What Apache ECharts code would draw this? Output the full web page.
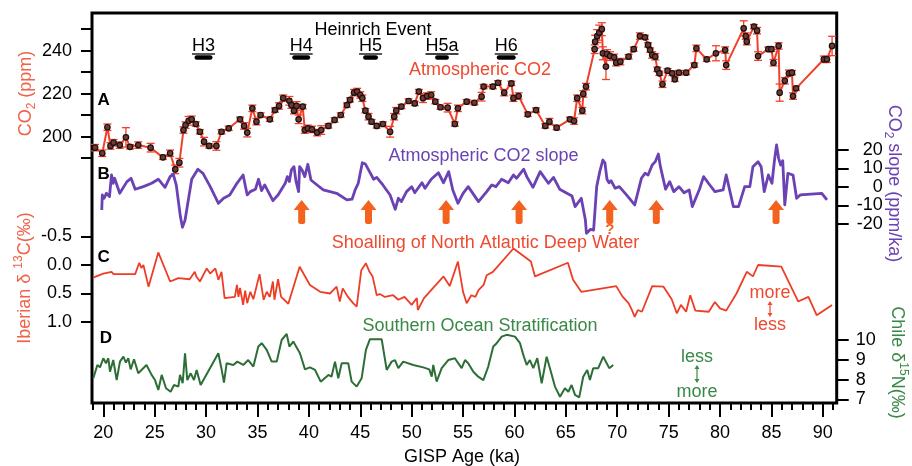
<!DOCTYPE html>
<html>
<head>
<meta charset="utf-8">
<script src="https://cdn.jsdelivr.net/npm/echarts@6/dist/echarts.min.js"></script>
<style>
  html, body { margin: 0; padding: 0; background: #ffffff; }
  #chart { width: 912px; height: 466px; }
</style>
</head>
<body>
<div id="chart"></div>
<script>
// ---------- records (age in ka, GISP time scale) ----------
const co2Age = [19.2,19.9,20.4,20.7,21.0,21.6,22.2,22.6,23.4,24.6,
  25.8,26.5,27.0,27.4,27.8,28.0,28.3,28.6,29.0,29.4,
  29.8,30.3,31.0,31.5,32.2,33.3,33.7,34.0,34.5,34.9,
  35.3,36.2,36.7,37.1,37.5,38.1,38.3,38.55,38.8,39.0,
  39.4,39.6,39.9,40.3,40.8,41.2,41.9,42.5,43.1,43.7,
  44.0,44.4,44.7,45.0,45.2,45.5,45.8,46.1,46.6,47.2,
  47.9,48.3,48.5,49.0,49.7,50.3,50.7,51.1,51.5,51.9,
  52.3,52.8,53.5,54.2,54.5,55.35,56.1,56.8,57.0,57.9,
  58.4,59.0,59.7,59.9,60.4,61.3,62.1,63.0,63.4,64.1,
  65.4,65.8,66.1,66.6,66.7,66.96,67.8,67.85,68.05,68.25,
  68.5,68.6,68.9,69.0,69.3,69.7,69.9,70.3,71.1,71.6,
  72.2,72.7,73.0,73.2,73.4,73.7,73.9,74.1,74.4,74.9,
  75.35,75.6,76.0,76.7,77.5,77.7,78.7,79.6,80.5,80.6,
  82.3,82.5,82.6,83.3,83.6,83.7,84.7,85.0,85.2,85.7,
  85.8,86.3,86.7,87.0,87.1,87.4,90.1,90.4,90.9];
const co2Ppm = [194.9,192.3,204.4,195.7,197.2,196.1,199.7,195.3,196.1,194.9,
  190.4,192.3,184.8,187.9,203.1,205.4,207.4,208.1,205.9,202.3,
  197.7,195.7,195.7,202.3,203.9,208.1,205.0,201.9,213.2,207.0,
  210.1,208.1,212.4,214.3,217.9,216.7,214.7,212.1,214.3,208.1,
  214.0,203.1,203.9,203.4,201.9,203.1,205.0,207.8,210.1,214.7,
  217.1,220.5,221.0,219.4,217.9,212.1,209.3,207.0,205.0,205.9,
  202.3,209.3,212.1,214.0,216.6,215.5,221.0,217.9,218.9,219.4,
  216.3,213.7,213.5,205.9,213.2,216.3,215.8,218.6,223.3,223.3,
  225.1,220.5,224.8,217.9,218.9,210.4,212.4,205.0,207.0,204.2,
  208.1,207.3,217.9,212.1,219.9,223.3,240.7,244.2,246.8,248.4,
  250.0,238.8,232.6,238.5,237.5,236.9,234.4,234.9,237.2,240.7,
  246.8,246.2,242.7,240.3,238.0,237.2,231.3,229.5,224.4,230.7,
  229.5,226.7,229.8,229.8,233.3,241.1,236.0,238.8,240.3,233.3,
  250.4,246.8,244.2,251.2,249.3,237.5,240.7,240.7,234.4,242.2,
  220.5,226.0,229.5,229.8,218.9,222.5,236.0,236.0,242.2];
const co2Err = [1.5,1.5,1.5,1.5,1.5,1.5,4.5,1.0,1.5,2.0,
  1.0,1.5,2.0,2.0,1.5,1.5,2.0,1.5,1.0,1.0,
  2.0,1.0,2.0,1.0,1.0,1.0,1.5,2.0,1.5,1.5,
  1.0,1.0,1.0,1.5,1.5,2.0,1.5,1.5,2.0,2.0,
  1.0,1.5,1.5,1.5,1.5,2.0,1.0,1.0,1.0,1.0,
  1.0,1.5,1.5,1.5,1.5,1.0,1.5,1.0,1.0,1.0,
  2.5,1.5,1.5,1.0,1.0,1.0,1.0,2.0,1.5,1.5,
  1.0,1.0,2.0,1.0,1.5,1.0,1.0,2.0,1.0,1.0,
  1.0,1.5,1.0,1.5,1.5,1.0,1.0,1.0,1.5,1.0,
  1.0,1.5,1.5,1.5,1.5,1.5,2.0,3.0,3.0,3.5,
  3.0,3.0,6.0,2.0,2.0,1.5,1.5,1.5,1.0,1.0,
  1.5,1.0,1.0,1.0,1.5,1.5,1.0,1.0,1.5,1.0,
  1.0,1.0,1.0,1.0,1.0,1.5,1.0,3.5,1.5,2.0,
  3.5,1.5,1.5,1.0,1.5,2.0,1.0,1.0,1.5,1.5,
  4.0,1.5,1.5,1.0,1.5,1.0,1.5,1.5,4.5];

// rate of change of atmospheric CO2 (ppm/ka)
const slopeRecord = [[19.85,-12.4],[19.9,-4.3],[20.07,-6.1],[20.3,-3.4],[20.6,-5.2],[20.8,6.5],[20.95,2.0],[21.1,4.7],
  [21.6,-3.4],[22.3,2.9],[22.7,4.7],[23.1,-1.2],[23.9,0.2],[24.7,2.0],[25.35,4.2],[26.0,-0.2],[26.5,5.6],[26.8,7.0],
  [27.1,1.0],[27.5,-16.0],[27.7,-21.8],[27.95,-18.0],[28.3,-6.1],[28.6,4.2],[29.2,9.6],[29.7,7.4],[30.4,0.2],
  [31.2,-8.8],[31.7,-6.1],[32.3,-4.3],[33.0,2.0],[33.6,6.5],[34.0,-4.3],[34.3,-2.5],[34.8,-1.2],[35.1,4.2],
  [35.4,-2.0],[35.7,1.1],[36.5,-7.4],[37.0,-4.3],[37.7,2.0],[37.9,5.6],[38.1,3.0],[38.3,9.2],[38.55,11.0],
  [38.75,3.0],[39.0,-2.5],[39.1,11.0],[39.35,9.0],[39.6,5.6],[39.9,12.3],[40.2,3.8],[40.8,1.1],[41.4,-1.6],
  [42.7,-3.4],[43.7,-7.0],[44.2,-6.6],[44.5,-1.6],[44.8,2.0],[45.2,13.1],[45.5,12.4],[45.9,8.3],[46.3,4.2],
  [46.6,5.2],[47.2,1.1],[47.9,-4.3],[48.4,-12.1],[48.7,-6.1],[49.0,-7.9],[49.5,-2.5],[50.0,0.2],[50.3,-3.1],
  [51.0,2.3],[51.3,-0.7],[51.9,4.2],[52.6,7.7],[53.1,2.3],[53.6,8.3],[54.0,-1.6],[54.5,-8.8],[55.0,-3.4],
  [55.5,0.2],[56.5,-7.9],[57.3,-2.5],[57.8,1.1],[58.2,0.2],[58.75,4.2],[59.4,2.3],[59.9,6.5],[60.2,4.7],
  [60.9,9.6],[61.2,5.6],[61.8,-0.2],[62.5,8.3],[63.3,2.0],[63.8,5.2],[64.4,-1.2],[65.1,-3.4],[65.6,-4.9],
  [65.9,-10.6],[66.5,-6.1],[66.9,-17.8],[67.0,-25.0],[67.4,-22.9],[67.7,-23.3],[68.0,0.2],[68.3,8.3],
  [68.6,14.6],[68.8,13.1],[69.0,4.2],[69.2,2.3],[69.4,3.4],[69.8,-0.7],[70.2,0.2],[70.9,-4.3],[71.7,-9.7],
  [72.35,4.7],[72.7,7.4],[73.0,6.5],[73.4,11.9],[73.7,13.7],[74.0,17.8],[74.2,11.0],[74.7,-1.2],[75.1,2.9],
  [75.5,-2.5],[76.0,0.2],[76.5,-3.1],[77.0,-1.6],[77.3,-10.6],[78.0,-1.2],[78.4,5.6],[79.0,1.1],[79.5,-2.5],
  [80.3,-1.6],[80.6,6.5],[81.3,-10.6],[81.8,-10.6],[82.4,0.2],[82.9,0.2],[83.2,11.0],[83.7,13.7],[84.0,11.0],
  [84.3,-2.5],[84.7,6.5],[85.05,2.0],[85.3,14.6],[85.5,22.7],[85.7,15.5],[85.9,11.9],[86.1,14.2],[86.3,-9.7],
  [86.6,7.4],[87.1,6.5],[87.45,-6.1],[87.8,-4.3],[89.9,-3.4],[90.4,-7.0]];

// Iberian margin benthic d13C (per mil)
const iberianRecord = [[19.0,0.22],[20.0,0.15],[20.8,0.12],[21.0,0.16],[23.1,0.16],[23.5,-0.04],[23.7,0.05],
  [23.9,0.0],[24.4,0.38],[25.35,-0.22],[26.5,0.29],[27.3,0.23],[28.4,0.25],[28.9,0.12],[29.05,0.2],[29.4,0.29],
  [30.06,0.06],[30.4,0.15],[30.9,0.06],[31.2,0.26],[31.5,0.12],[31.8,0.58],[32.8,0.56],[33.0,0.35],[33.15,0.56],
  [33.3,0.4],[33.6,0.70],[33.8,0.45],[34.0,0.67],[34.3,0.47],[34.6,0.6],[35.2,0.16],[35.6,0.61],[35.9,0.47],
  [36.2,0.56],[36.5,0.29],[36.65,0.61],[37.0,0.25],[37.3,0.56],[38.0,0.68],[39.1,0.03],[40.1,0.35],[41.1,0.47],
  [42.05,0.50],[42.7,0.38],[43.0,0.64],[43.3,0.41],[43.8,0.56],[44.3,0.67],[44.65,0.73],[45.1,0.09],[45.55,-0.03],
  [45.9,0.12],[46.2,0.2],[46.6,0.53],[46.9,0.51],[47.4,0.56],[48.2,0.53],[48.7,0.61],[49.3,0.56],[50.0,0.70],
  [50.5,0.58],[50.6,0.79],[51.2,0.58],[53.1,0.20],[53.7,0.37],[54.5,-0.06],[55.0,0.47],[55.35,0.67],[55.8,0.53],
  [56.2,0.56],[56.5,0.44],[57.0,0.35],[57.3,0.18],[57.9,0.12],[59.9,-0.29],[61.6,-0.06],[62.0,0.2],[65.2,-0.04],
  [65.7,0.26],[66.5,0.47],[69.9,0.37],[70.5,0.55],[71.1,0.67],[71.4,0.78],[71.7,0.91],[72.0,0.79],[72.4,0.82],
  [73.4,0.37],[74.5,0.38],[75.3,0.6],[75.8,0.85],[76.2,0.7],[76.7,0.82],[77.1,0.53],[77.6,0.8],[78.9,0.82],
  [79.5,0.65],[80.0,0.76],[80.6,0.8],[81.6,0.50],[82.6,0.12],[83.2,0.2],[83.7,0.0],[85.96,0.03],[87.6,0.64],
  [88.6,0.56],[89.4,0.88],[90.9,0.70]];

// Chile margin bulk d15N (per mil)
const chileRecord = [[19.03,8.07],[19.42,8.74],[19.68,8.62],[20.0,9.08],[20.26,8.83],[20.49,9.08],[20.65,8.40],
  [20.97,8.99],[21.3,7.98],[21.62,8.91],[21.95,9.16],[22.2,8.86],[22.43,9.08],[22.66,8.52],[22.99,9.03],[23.4,8.32],
  [24.2,8.74],[24.7,8.24],[25.03,7.98],[25.35,7.48],[25.68,8.24],[26.1,7.57],[26.55,7.39],[26.88,7.73],[27.3,7.65],
  [27.46,8.24],[27.72,7.82],[27.95,9.33],[28.17,7.98],[28.5,8.32],[28.82,7.98],[29.08,8.49],[29.47,7.73],[31.19,9.33],
  [31.52,8.49],[31.74,7.85],[32.0,8.83],[32.65,8.74],[33.04,8.91],[33.62,8.74],[34.1,8.99],[34.6,8.66],[35.08,9.67],
  [35.41,9.84],[35.9,9.5],[36.38,8.91],[36.87,8.91],[37.35,10.0],[37.84,10.31],[38.1,9.67],[38.48,9.92],[39.13,9.33],
  [39.62,8.52],[40.1,8.62],[40.6,8.49],[41.15,7.9],[41.9,8.24],[42.2,8.15],[42.54,8.91],[42.86,8.07],[43.19,8.83],
  [43.83,8.83],[44.16,7.9],[44.65,7.65],[45.13,8.07],[45.55,9.5],[45.94,10.04],[47.08,10.04],[47.57,8.49],[48.05,8.91],
  [48.38,8.99],[48.7,8.58],[49.18,8.91],[50.16,8.74],[51.13,8.62],[51.71,8.52],[51.95,8.15],[52.1,8.74],[52.43,7.9],
  [52.92,8.58],[53.56,8.99],[54.2,9.08],[54.86,8.58],[55.19,8.99],[55.5,8.83],[56.0,8.40],[56.48,8.15],[56.97,7.98],
  [57.45,8.66],[57.94,9.67],[58.27,9.84],[58.76,10.17],[59.24,10.26],[60.05,10.17],[60.54,9.84],[60.86,9.25],
  [61.19,8.74],[61.5,8.99],[61.83,8.58],[62.22,9.08],[62.65,7.82],[63.13,9.16],[63.45,8.58],[63.94,7.65],[64.43,7.14],
  [64.91,7.57],[65.24,7.39],[65.56,7.73],[65.89,7.23],[66.3,7.11],[66.69,8.15],[67.08,8.49],[67.34,7.98],[67.66,8.58],
  [68.15,8.58],[68.64,9.16],[68.97,8.83],[69.22,8.58],[69.61,8.74]];

// Heinrich events (ka)
const heinrichNames = ['H3', 'H4', 'H5', 'H5a', 'H6'];
const heinrichStart = [28.9, 38.4, 45.3, 52.3, 58.3];
const heinrichEnd = [30.6, 40.1, 46.7, 53.6, 60.1];

// NADW shoalling events (ka); the 69 ka one is uncertain
const shoalAge = [39.3, 45.8, 53.35, 60.45, 69.27, 73.8, 85.45];
const shoalUncertain = [false, false, false, false, true, false, false];

// axis ticks
const ageTicks = [20, 25, 30, 35, 40, 45, 50, 55, 60, 65, 70, 75, 80, 85, 90];
const ageMinorTicks = [];
for (let a = 19; a <= 91; a++) ageMinorTicks.push(a);

// ---------- styling ----------
const FONT = "'Liberation Sans', Arial, Helvetica, sans-serif";
const AGE_MIN = 18.9, AGE_MAX = 91.35;
const PLOT_LEFT = 92, PLOT_W = 744.7;
const CO2_RED = '#f0402a';
const CO2_TEXT = '#ee4a30';
const TITLE_RED = '#f0624a';
const PURPLE = '#6a42b4';
const ISO_RED = '#ee3d27';
const GREEN_LINE = '#2c6e36';
const GREEN_TEXT = '#3a8846';
const ORANGE = '#f4621f';

const measureCtx = document.createElement('canvas').getContext('2d');
function textWidth(s, font) { measureCtx.font = font; return measureCtx.measureText(s).width; }

function hiddenX(gridIndex) {
  return { gridIndex, type: 'value', min: AGE_MIN, max: AGE_MAX, show: false };
}
function valueY(gridIndex, cfg) {
  return Object.assign({
    gridIndex, type: 'value', splitLine: { show: false },
    axisLine: { show: false, onZero: false },
    axisTick: { show: true, length: 11, lineStyle: { color: '#000', width: 2 } },
    axisLabel: { color: '#000', fontSize: 18, fontFamily: FONT, margin: 20 }
  }, cfg);
}

function plainText(x, y, text, color, font) {
  return {
    type: 'text', x, y, silent: true,
    style: { text, fill: color, font: font || ('18px ' + FONT),
      align: 'center', verticalAlign: 'middle', textAlign: 'center', textVerticalAlign: 'middle' }
  };
}
function scriptRich(color) {
  return {
    sub: { fontSize: 12, fontFamily: FONT, lineHeight: 12, verticalAlign: 'bottom', fill: color },
    sup: { fontSize: 12, fontFamily: FONT, lineHeight: 12, verticalAlign: 'top', fill: color }
  };
}
function titleText(x, y, text, color, rotation) {
  return {
    type: 'text', x, y, rotation, silent: true,
    style: { text, fill: color, font: '18px ' + FONT, lineHeight: 24, rich: scriptRich(color),
      align: 'center', verticalAlign: 'middle', textAlign: 'center', textVerticalAlign: 'middle' }
  };
}
function doubleArrow(x, y1, y2, color) {
  const h = 3.5, w = 2.5;
  return {
    type: 'group', silent: true, children: [
      { type: 'line', shape: { x1: x, y1: y1 + h, x2: x, y2: y2 - h }, style: { stroke: color, lineWidth: 1.2 } },
      { type: 'polygon', shape: { points: [[x, y1], [x - w, y1 + h + 0.5], [x + w, y1 + h + 0.5]] }, style: { fill: color } },
      { type: 'polygon', shape: { points: [[x, y2], [x - w, y2 - h - 0.5], [x + w, y2 - h - 0.5]] }, style: { fill: color } }
    ]
  };
}

const chart = echarts.init(document.getElementById('chart'), null, { renderer: 'canvas' });
const LETTER_FONT = 'bold 17px ' + FONT;

const option = {
  animation: false,
  backgroundColor: '#ffffff',
  grid: [
    { left: PLOT_LEFT, top: 13, width: PLOT_W, height: 390, show: true, borderColor: '#000', borderWidth: 3 },
    { left: PLOT_LEFT, top: 29.2, width: PLOT_W, height: 129 },
    { left: PLOT_LEFT, top: 150, width: PLOT_W, height: 74 },
    { left: PLOT_LEFT, top: 236.5, width: PLOT_W, height: 85.5 },
    { left: PLOT_LEFT, top: 340, width: PLOT_W, height: 59.5 }
  ],
  xAxis: [
    {
      gridIndex: 0, type: 'value', min: AGE_MIN, max: AGE_MAX, position: 'bottom',
      axisLine: { show: false, onZero: false }, splitLine: { show: false },
      axisTick: { show: true, customValues: ageTicks, length: 14, lineStyle: { color: '#000', width: 2 } },
      axisLabel: { show: true, customValues: ageTicks, color: '#000', fontSize: 18, fontFamily: FONT, margin: 21 }
    },
    {
      gridIndex: 0, type: 'value', min: AGE_MIN, max: AGE_MAX, position: 'bottom',
      axisLine: { show: false, onZero: false }, splitLine: { show: false },
      axisTick: { show: true, customValues: ageMinorTicks, length: 7, lineStyle: { color: '#000', width: 2 } },
      axisLabel: { show: false }
    },
    hiddenX(1), hiddenX(2), hiddenX(3), hiddenX(4)
  ],
  yAxis: [
    { gridIndex: 0, type: 'value', min: 0, max: 1, show: false },
    valueY(1, { min: 190, max: 250, interval: 10, position: 'left',
      axisLabel: { color: '#000', fontSize: 18, fontFamily: FONT, margin: 20,
        formatter: v => (v % 20 === 0 ? String(v) : '') } }),
    valueY(2, { min: -20, max: 20, interval: 10, position: 'right',
      axisTick: { show: true, length: 12, lineStyle: { color: '#000', width: 2 } },
      axisLabel: { color: '#000', fontSize: 18, fontFamily: FONT, margin: 46, align: 'right' } }),
    valueY(3, { min: -0.5, max: 1.0, interval: 0.5, position: 'left', inverse: true,
      axisLabel: { color: '#000', fontSize: 18, fontFamily: FONT, margin: 20, formatter: v => v.toFixed(1) } }),
    valueY(4, { min: 7, max: 10, interval: 1, position: 'right',
      axisTick: { show: true, length: 12, lineStyle: { color: '#000', width: 2 } },
      axisLabel: { color: '#000', fontSize: 18, fontFamily: FONT, margin: 19, align: 'left' } })
  ],
  series: [
    {
      // CO2 error bars
      type: 'custom', xAxisIndex: 2, yAxisIndex: 1, z: 2,
      data: co2Age.map((a, i) => [a, co2Ppm[i] - co2Err[i], co2Ppm[i] + co2Err[i]]),
      encode: { x: 0, y: [1, 2] },
      renderItem(params, api) {
        const x = api.value(0);
        const lo = api.coord([x, api.value(1)]);
        const hi = api.coord([x, api.value(2)]);
        const w = 4;
        const st = { stroke: CO2_RED, lineWidth: 1.3 };
        return { type: 'group', children: [
          { type: 'line', shape: { x1: lo[0], y1: lo[1], x2: hi[0], y2: hi[1] }, style: st },
          { type: 'line', shape: { x1: lo[0] - w, y1: lo[1], x2: lo[0] + w, y2: lo[1] }, style: st },
          { type: 'line', shape: { x1: hi[0] - w, y1: hi[1], x2: hi[0] + w, y2: hi[1] }, style: st }
        ] };
      }
    },
    {
      name: 'Atmospheric CO2', type: 'line', xAxisIndex: 2, yAxisIndex: 1, z: 3, clip: false,
      data: co2Age.map((a, i) => [a, co2Ppm[i]]),
      symbol: 'circle', symbolSize: 5.5, showSymbol: true,
      lineStyle: { color: CO2_RED, width: 2 },
      itemStyle: { color: '#6e3a34', borderColor: '#1a1010', borderWidth: 1.2 }
    },
    {
      // Heinrich events
      type: 'custom', xAxisIndex: 2, yAxisIndex: 1, z: 4, clip: false,
      data: heinrichNames.map((n, i) => [heinrichStart[i], heinrichEnd[i]]),
      encode: { x: [0, 1] },
      renderItem(params, api) {
        const cs = params.coordSys;
        const x1 = api.coord([api.value(0), 220])[0];
        const x2 = api.coord([api.value(1), 220])[0];
        const barY = cs.y + 28.3;
        const name = heinrichNames[params.dataIndex];
        const font = '18px ' + FONT;
        const cx = (x1 + x2) / 2;
        const tw = textWidth(name, font);
        return { type: 'group', children: [
          { type: 'line', shape: { x1: x1 + 2, y1: barY, x2: x2 - 2, y2: barY },
            style: { stroke: '#000', lineWidth: 4.5, lineCap: 'round' } },
          { type: 'text', x: cx, y: barY - 11,
            style: { text: name, font, fill: '#000', align: 'center', verticalAlign: 'middle',
              textAlign: 'center', textVerticalAlign: 'middle' } },
          { type: 'line', shape: { x1: cx - tw / 2, y1: barY - 3.5, x2: cx + tw / 2, y2: barY - 3.5 },
            style: { stroke: '#000', lineWidth: 1.3 } }
        ] };
      }
    },
    {
      name: 'Atmospheric CO2 slope', type: 'line', xAxisIndex: 3, yAxisIndex: 2, z: 3, clip: false,
      data: slopeRecord, showSymbol: false, symbol: 'none',
      lineStyle: { color: PURPLE, width: 2.8, join: 'round' }
    },
    {
      // NADW shoalling markers
      type: 'scatter', xAxisIndex: 3, yAxisIndex: 2, z: 4, clip: false,
      symbol: 'path://M8,0 L16,10 L11.5,10 L11.5,22 Q11.5,24 8,24 Q4.5,24 4.5,22 L4.5,10 L0,10 Z',
      symbolSize: [16, 24],
      itemStyle: { color: ORANGE, opacity: 1 },
      emphasis: { disabled: true },
      data: shoalAge.map((a, i) => ({
        value: [a, -13.5],
        label: shoalUncertain[i]
          ? { show: true, formatter: '?', position: 'bottom', distance: -2, color: ORANGE,
              fontSize: 15, fontWeight: 'bold', fontFamily: FONT }
          : { show: false }
      }))
    },
    {
      name: 'Iberian d13C', type: 'line', xAxisIndex: 4, yAxisIndex: 3, z: 3, clip: false,
      data: iberianRecord, showSymbol: false, symbol: 'none',
      lineStyle: { color: ISO_RED, width: 1.8 }
    },
    {
      name: 'Chile d15N', type: 'line', xAxisIndex: 5, yAxisIndex: 4, z: 3, clip: false,
      data: chileRecord, showSymbol: false, symbol: 'none',
      lineStyle: { color: GREEN_LINE, width: 2 }
    }
  ],
  graphic: { elements: [
    plainText(373, 30, 'Heinrich Event', '#000'),
    plainText(480, 70, 'Atmospheric CO2', CO2_TEXT),
    plainText(483.5, 156, 'Atmospheric CO2 slope', PURPLE),
    plainText(485.5, 243, 'Shoalling of North Atlantic Deep Water', CO2_TEXT),
    plainText(480, 326, 'Southern Ocean Stratification', GREEN_TEXT),
    plainText(770, 293, 'more', CO2_TEXT),
    plainText(770, 325, 'less', CO2_TEXT),
    doubleArrow(770, 301, 317, CO2_TEXT),
    plainText(697, 357, 'less', GREEN_TEXT),
    plainText(697, 392, 'more', GREEN_TEXT),
    doubleArrow(697, 365, 383, GREEN_TEXT),
    plainText(103.7, 100, 'A', '#000', LETTER_FONT),
    plainText(103.7, 174, 'B', '#000', LETTER_FONT),
    plainText(103.7, 257, 'C', '#000', LETTER_FONT),
    plainText(105.8, 338, 'D', '#000', LETTER_FONT),
    titleText(26, 93.5, 'CO{sub|2} (ppm)', TITLE_RED, Math.PI / 2),
    titleText(25, 278, 'Iberian δ {sup|13}C(‰)', TITLE_RED, Math.PI / 2),
    titleText(894, 183.5, 'CO{sub|2} slope (ppm/ka)', PURPLE, -Math.PI / 2),
    titleText(897, 362.5, 'Chile δ{sup|15}N(‰)', GREEN_TEXT, -Math.PI / 2),
    plainText(462, 457, 'GISP Age (ka)', '#000')
  ] }
};

chart.setOption(option);
</script>
</body>
</html>
